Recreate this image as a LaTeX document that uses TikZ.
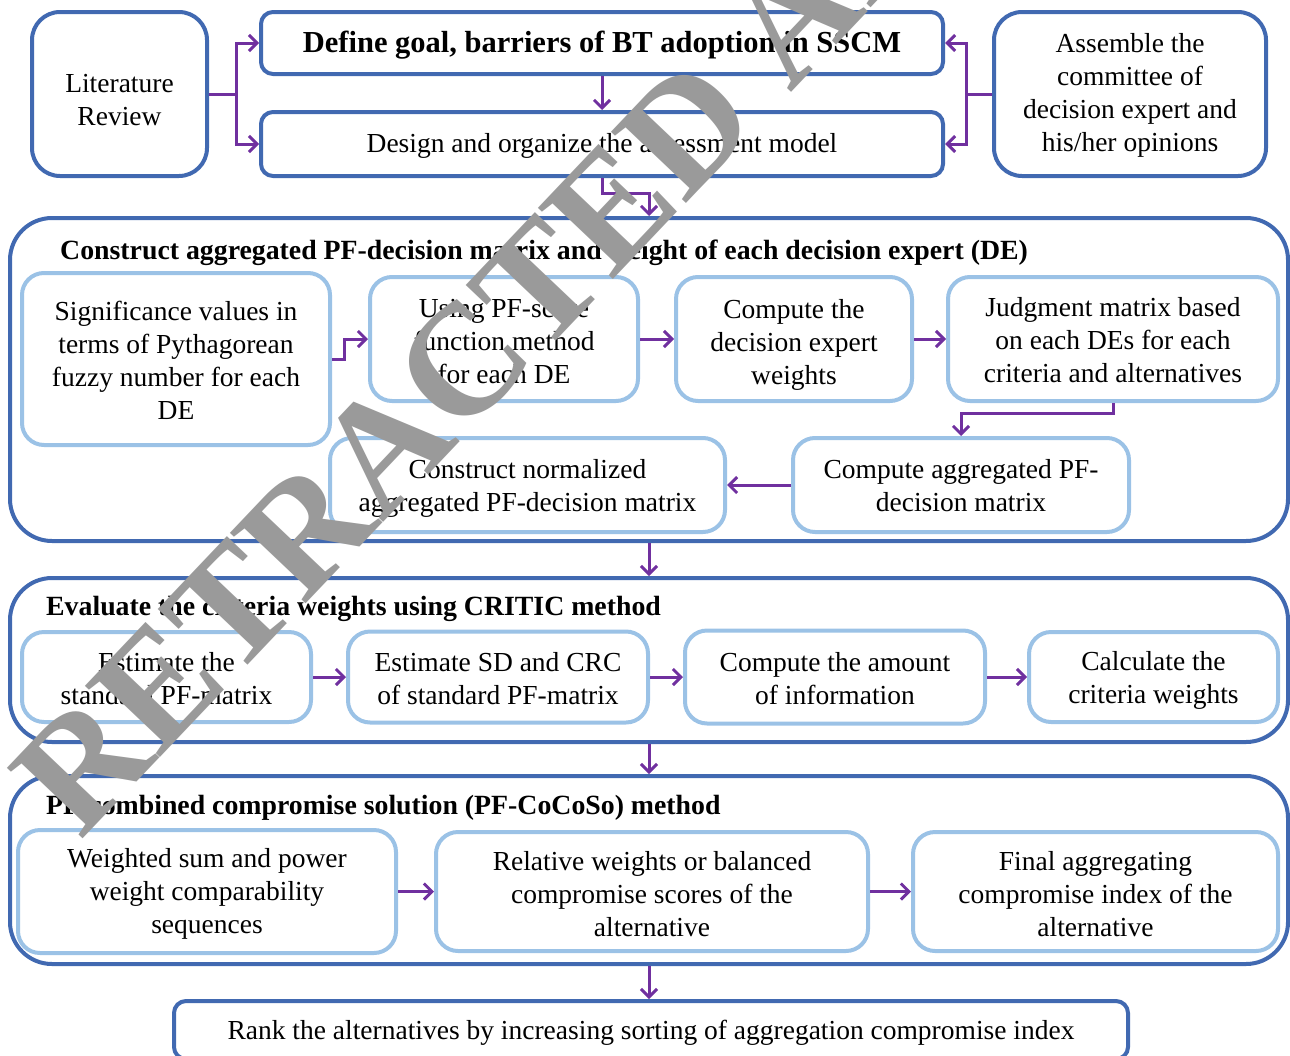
\documentclass[tikz,border=0pt]{standalone}
\usepackage{fontspec}
\setmainfont{Liberation Serif}
\usetikzlibrary{arrows.meta,calc}
\definecolor{dkblue}{HTML}{4169B1}
\definecolor{ltblue}{HTML}{9BC2E6}
\definecolor{purp}{HTML}{70309F}
\definecolor{wmgray}{HTML}{9A9A9A}
\newcommand\bodyfs{\fontsize{27.5}{33}\selectfont}
\newcommand\titlefs{\fontsize{27.8}{33}\selectfont\bfseries}
\tikzset{
  outerbox/.style={draw=dkblue, line width=4pt, fill=white, inner sep=0pt},
  section/.style={draw=dkblue, line width=4pt, rounded corners=42pt, inner sep=0pt},
  innerbox/.style={draw=ltblue, line width=4pt, fill=white, rounded corners=22pt, inner sep=0pt},
  txt/.style={inner sep=0pt, align=center, font=\bodyfs},
  sectitle/.style={anchor=west, inner sep=0pt, font=\titlefs},
  arr/.style={draw=purp, line width=3pt, -{Straight Barb[length=8pt,width=16pt]}},
}
\begin{document}
\begin{tikzpicture}[x=1pt,y=-1pt]
\useasboundingbox (0,0) rectangle (1290,1055);
\clip (0,0) rectangle (1290,1055);
% ---------- top row ----------
\node[outerbox, rounded corners=28pt, minimum width=175pt, minimum height=164pt] (lit) at (119.5,94) {};
\node[txt] (lit-t) at ([yshift=-6pt]lit.center) {Literature\\Review};
\node[outerbox, rounded corners=12pt, minimum width=682pt, minimum height=62pt] (goal) at (602,43) {};
\node[txt, font=\fontsize{30.5}{36}\selectfont\bfseries] (goal-t) at ([yshift=-2pt]goal.center) {Define goal, barriers of BT adoption in SSCM};
\node[outerbox, rounded corners=12pt, minimum width=682pt, minimum height=64pt] (design) at (602,144) {};
\node[txt] (design-t) at ([yshift=-2pt]design.center) {Design and organize the assessment model};
\node[outerbox, rounded corners=28pt, minimum width=272pt, minimum height=164pt] (assem) at (1130,94) {};
\node[txt] (assem-t) at ([yshift=-1.5pt]assem.center) {Assemble the\\committee of\\decision expert and\\his/her opinions};
% ---------- section 1 ----------
\node[section, minimum width=1278pt, minimum height=323pt] (sec1) at (649,379.5) {};
\node[sectitle] (t1) at (60,252.5) {Construct aggregated PF-decision matrix and weight of each decision expert (DE)};
\node[innerbox, minimum width=308pt, minimum height=172pt] (sig) at (176,359) {};
\node[txt] (sig-t) at ([yshift=-1.5pt]sig.center) {Significance values in\\terms of Pythagorean\\fuzzy number for each\\DE};
\node[innerbox, minimum width=268pt, minimum height=124pt] (using) at (504,339) {};
\node[txt] (using-t) at ([yshift=-3pt]using.center) {Using PF-score\\function method\\for each DE};
\node[innerbox, minimum width=236pt, minimum height=124pt] (cdew) at (794,339) {};
\node[txt] (cdew-t) at ([yshift=-6pt]cdew.center) {Compute the\\decision expert\\weights};
\node[innerbox, minimum width=330pt, minimum height=124pt] (judg) at (1113,339) {};
\node[txt] (judg-t) at ([yshift=-1pt]judg.center) {Judgment matrix based\\on each DEs for each\\criteria and alternatives};
\node[innerbox, minimum width=336pt, minimum height=94pt] (cagg) at (961,485) {};
\node[txt] (cagg-t) at ([yshift=-1pt]cagg.center) {Compute aggregated PF-\\decision matrix};
\node[innerbox, minimum width=395pt, minimum height=94pt] (cnorm) at (527.5,485) {};
\node[txt] (cnorm-t) at ([yshift=-3pt]cnorm.center) {Construct normalized\\aggregated PF-decision matrix};
% ---------- section 2 ----------
\node[section, minimum width=1278pt, minimum height=164pt] (sec2) at (649,660) {};
\node[sectitle] (t2) at (46,608.5) {Evaluate the criteria weights using CRITIC method};
\node[innerbox, minimum width=289pt, minimum height=90pt] (est) at (166.5,677) {};
\node[txt] (est-t) at ([yshift=-1.5pt]est.center) {Estimate the\\standard PF-matrix};
\node[innerbox, minimum width=300pt, minimum height=91pt] (sd) at (498,677) {};
\node[txt] (sd-t) at ([yshift=-1.5pt]sd.center) {Estimate SD and CRC\\of standard PF-matrix};
\node[innerbox, minimum width=300pt, minimum height=93pt] (amt) at (835,677) {};
\node[txt] (amt-t) at ([yshift=-1.5pt]amt.center) {Compute the amount\\of information};
\node[innerbox, minimum width=249pt, minimum height=90pt] (crit) at (1153.5,677) {};
\node[txt] (crit-t) at ([yshift=-3pt]crit.center) {Calculate the\\criteria weights};
% ---------- section 3 ----------
\node[section, minimum width=1278pt, minimum height=188pt] (sec3) at (649,870) {};
\node[sectitle] (t3) at (46,807.5) {PF-combined compromise solution (PF-CoCoSo) method};
\node[innerbox, minimum width=378pt, minimum height=123pt] (ws) at (207,891.5) {};
\node[txt] (ws-t) at ([yshift=-2pt]ws.center) {Weighted sum and power\\weight comparability\\sequences};
\node[innerbox, minimum width=432pt, minimum height=119pt] (rel) at (652,891.5) {};
\node[txt] (rel-t) at ([yshift=-2.5pt]rel.center) {Relative weights or balanced\\compromise scores of the\\alternative};
\node[innerbox, minimum width=365pt, minimum height=119pt] (fin) at (1095.5,891.5) {};
\node[txt] (fin-t) at ([yshift=-2.5pt]fin.center) {Final aggregating\\compromise index of the\\alternative};
% ---------- bottom ----------
\node[outerbox, rounded corners=12pt, minimum width=954pt, minimum height=58pt] (rank) at (651,1030) {};
\node[txt] (rank-t) at ([yshift=-3pt]rank.center) {Rank the alternatives by increasing sorting of aggregation compromise index};
% ---------- connectors ----------
\draw[arr] (lit.east) -- ++(27,0) |- (goal.west);
\draw[arr] (lit.east) -- ++(27,0) |- (design.west);
\draw[arr] (assem.west) -- ++(-26,0) |- (goal.east);
\draw[arr] (assem.west) -- ++(-26,0) |- (design.east);
\draw[arr] (goal.south) -- (design.north);
\draw[arr] (design.south) -- ++(0,15) -| (sec1.north);
\draw[arr] (sig.east) -- ++(12,0) |- (using.west);
\draw[arr] (using.east) -- (cdew.west);
\draw[arr] (cdew.east) -- (judg.west);
\draw[arr] (judg.south) -- ++(0,10) -| (cagg.north);
\draw[arr] (cagg.west) -- (cnorm.east);
\draw[arr] (sec1.south) -- (sec2.north);
\draw[arr] (est.east) -- (sd.west);
\draw[arr] (sd.east) -- (amt.west);
\draw[arr] (amt.east) -- (crit.west);
\draw[arr] (sec2.south) -- (sec3.north);
\draw[arr] (ws.east) -- (rel.west);
\draw[arr] (rel.east) -- (fin.west);
\draw[arr] (sec3.south) -- (sec3.south |- rank.north);
% ---------- watermark ----------
\node[rotate=46.5, anchor=base west, inner sep=0pt, text=wmgray, font=\fontsize{158}{158}\selectfont\bfseries] (wm) at (80,842) {RETRACTED ARTICLE};
\end{tikzpicture}
\end{document}
